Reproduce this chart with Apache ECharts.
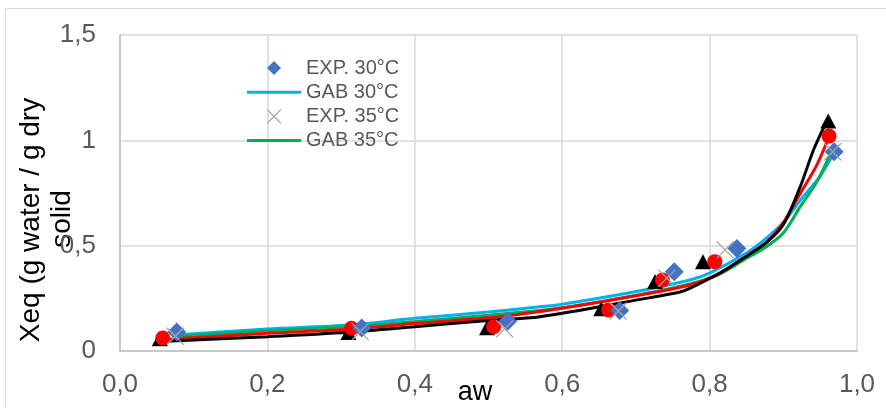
<!DOCTYPE html>
<html>
<head>
<meta charset="utf-8">
<script src="https://cdn.jsdelivr.net/npm/echarts@6/dist/echarts.min.js"></script>
<style>html,body{margin:0;padding:0;background:#fff;}#c{width:886px;height:408px;}</style>
</head>
<body>
<div id="c"></div>
<script>
// Experimental points [aw, Xeq]
var exp30 = [[0.077,0.090],[0.328,0.109],[0.526,0.141],[0.678,0.192],[0.752,0.376],[0.837,0.487],[0.969,0.946]];
var exp35 = [[0.075,0.070],[0.326,0.092],[0.522,0.105],[0.676,0.190],[0.742,0.346],[0.821,0.480],[0.967,0.946]];
var expRed = [[0.058,0.062],[0.314,0.108],[0.507,0.115],[0.663,0.195],[0.736,0.337],[0.807,0.424],[0.962,1.020]];
var expBlack = [[0.054,0.058],[0.310,0.088],[0.498,0.110],[0.653,0.200],[0.726,0.330],[0.791,0.424],[0.961,1.092]];
// Model curves [aw, Xeq]
var gab30 = [[0.075,0.076],[0.2,0.104],[0.31,0.123],[0.4,0.155],[0.5,0.185],[0.57,0.210],[0.6,0.222],[0.706,0.286],[0.773,0.337],[0.8,0.370],[0.85,0.465],[0.875,0.530],[0.9,0.610],[0.923,0.715],[0.95,0.830],[0.967,0.930]];
var gab35 = [[0.075,0.068],[0.2,0.096],[0.31,0.115],[0.4,0.140],[0.5,0.170],[0.6,0.205],[0.706,0.268],[0.773,0.318],[0.814,0.365],[0.85,0.440],[0.875,0.490],[0.9,0.560],[0.923,0.685],[0.945,0.800],[0.963,0.930]];
var gabRed = [[0.060,0.055],[0.2,0.084],[0.31,0.103],[0.4,0.130],[0.5,0.158],[0.57,0.187],[0.706,0.266],[0.773,0.313],[0.814,0.370],[0.85,0.450],[0.877,0.515],[0.9,0.610],[0.923,0.748],[0.945,0.880],[0.962,1.017]];
var gabBlack = [[0.055,0.045],[0.2,0.068],[0.31,0.089],[0.4,0.115],[0.5,0.145],[0.57,0.163],[0.706,0.245],[0.76,0.280],[0.773,0.297],[0.814,0.370],[0.85,0.450],[0.877,0.515],[0.9,0.600],[0.923,0.780],[0.941,0.954],[0.961,1.105]];
var names = ['EXP. 30°C','GAB 30°C','EXP. 35°C','GAB 35°C'];
var xTicks = {0:'0,0',0.2:'0,2',0.4:'0,4',0.6:'0,6',0.8:'0,8',1:'1,0'};
var yTicks = {0:'0',0.5:'0,5',1:'1',1.5:'1,5'};
var xTitle = 'aw';
var yTitle = ['Xeq (g water / g dry', 'solid'];

var F = '"Liberation Sans", Arial, sans-serif';
var DIAMOND = 'path://M5,0L10,5L5,10L0,5Z';
var CROSS = 'path://M0,0L10,10M10,0L0,10';
var LINEICON = 'path://M0,0H54V3H0Z';
var chart = echarts.init(document.getElementById('c'), null, {renderer:'canvas'});
function key(v){ return Math.round(v*10)/10; }
chart.setOption({
  animation:false,
  backgroundColor:'#fff',
  grid:{left:120, top:35, right:29, bottom:57, containLabel:false},
  xAxis:{type:'value', min:0, max:1, interval:0.2,
    axisLine:{show:true, lineStyle:{color:'#bfbfbf', width:1.5}},
    axisTick:{show:false},
    splitLine:{show:true, lineStyle:{color:'#d9d9d9', width:1.5}},
    axisLabel:{color:'#595959', fontSize:26, fontFamily:F, margin:21,
      formatter:function(v){ var k=key(v); return xTicks[k]!==undefined?xTicks[k]:''; }}
  },
  yAxis:{type:'value', min:0, max:1.5, interval:0.5,
    axisLine:{show:true, lineStyle:{color:'#bfbfbf', width:1.5}},
    axisTick:{show:false},
    splitLine:{show:true, lineStyle:{color:'#d9d9d9', width:1.5}},
    axisLabel:{color:'#595959', fontSize:26, fontFamily:F, margin:24,
      formatter:function(v){ var k=Math.round(v*2)/2; return yTicks[k]!==undefined?yTicks[k]:''; }}
  },
  legend:{orient:'vertical', left:247, top:58, itemWidth:54, itemHeight:14, itemGap:4.2, symbolKeepAspect:true,
    data:[
      {name:names[0], icon:DIAMOND, itemStyle:{color:'#4472C4', opacity:1}},
      {name:names[1], icon:LINEICON, itemStyle:{color:'#00B0F0', borderWidth:0}},
      {name:names[2], icon:CROSS, itemStyle:{color:'none', borderColor:'#A5A5A5', borderWidth:1.3}},
      {name:names[3], icon:LINEICON, itemStyle:{color:'#00B050', borderWidth:0}}
    ],
    textStyle:{color:'#595959', fontSize:20, fontFamily:F}, padding:0},
  graphic:[
    {type:'rect', silent:true, z:-10, shape:{x:5.5, y:8.5, width:900, height:420},
      style:{fill:'none', stroke:'#d9d9d9', lineWidth:1}},
    {type:'text', x:475, y:393, style:{text:xTitle, fontSize:27, fontFamily:F, fill:'#000', align:'center', verticalAlign:'middle'}},
    {type:'text', x:31, y:220, rotation:Math.PI/2, style:{text:yTitle[0], fontSize:28, fontFamily:F, fill:'#000', align:'center', verticalAlign:'middle'}},
    {type:'text', x:62, y:219, rotation:Math.PI/2, style:{text:yTitle[1], fontSize:28, fontFamily:F, fill:'#000', align:'center', verticalAlign:'middle'}}
  ],
  series:[
    {name:'GAB 30°C', type:'line', data:gab30, smooth:0.3, symbol:'none', z:2, lineStyle:{color:'#00B0F0', width:3}, itemStyle:{color:'#00B0F0'}},
    {name:'GAB 35°C', type:'line', data:gab35, smooth:0.3, symbol:'none', z:2, lineStyle:{color:'#00B050', width:3}, itemStyle:{color:'#00B050'}},
    {name:'red', type:'line', data:gabRed, smooth:0.3, symbol:'none', z:2, lineStyle:{color:'#FF0000', width:3}, itemStyle:{color:'#FF0000'}},
    {name:'black', type:'line', data:gabBlack, smooth:0.3, symbol:'none', z:2, lineStyle:{color:'#000000', width:3}, itemStyle:{color:'#000000'}},
    {name:'blackPts', type:'scatter', data:expBlack, symbol:'triangle', symbolSize:[16,15], z:3, itemStyle:{color:'#000000', opacity:1}},
    {name:'redPts', type:'scatter', data:expRed, symbol:'circle', symbolSize:15, z:3, itemStyle:{color:'#FF0000', opacity:1}},
    {name:'EXP. 30°C', type:'scatter', data:exp30, symbol:'diamond', symbolSize:19, z:3, itemStyle:{color:'#4472C4', opacity:1}},
    {name:'EXP. 35°C', type:'scatter', data:exp35, symbol:CROSS, symbolSize:17, z:3,
      itemStyle:{color:'none', borderColor:'#A5A5A5', borderWidth:1.3, opacity:1}}
  ]
});
</script>
</body>
</html>
